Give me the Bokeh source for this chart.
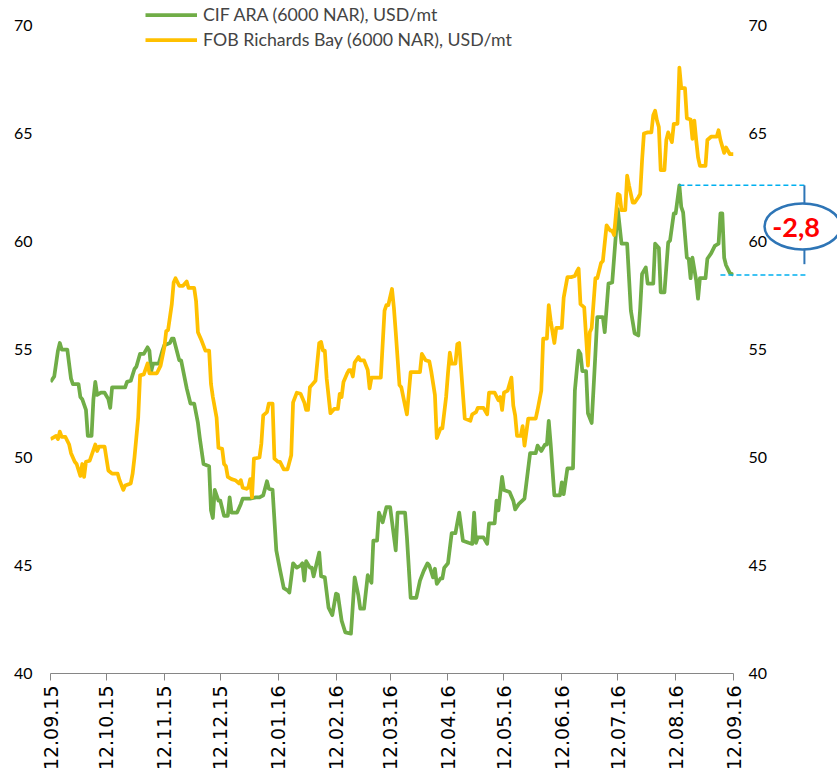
import pandas as pd
from math import pi
from bokeh.plotting import figure
from bokeh.models import (Range1d, LinearAxis, FixedTicker, DatetimeTickFormatter,
                          Legend, LegendItem, ColumnDataSource)
from bokeh.core.properties import value
from bokeh.embed import file_html
from bokeh.resources import INLINE

# ---------------- data ----------------
start_date = "2015-09-12"
tick_dates = ["2015-09-12", "2015-10-12", "2015-11-12", "2015-12-12", "2016-01-12",
              "2016-02-12", "2016-03-12", "2016-04-12", "2016-05-12", "2016-06-12",
              "2016-07-12", "2016-08-12", "2016-09-12"]
y_ticks = [40, 45, 50, 55, 60, 65, 70]

series_names = ["CIF ARA (6000 NAR), USD/mt", "FOB Richards Bay (6000 NAR), USD/mt"]

# days after 12.09.15
cif_days = [0, 2, 4, 5, 6, 9, 11, 12, 15, 16,
            17, 19, 20, 22, 23, 24, 25, 27, 29, 31,
            32, 33, 40, 41, 43, 45, 46, 48, 50, 52,
            53, 54, 55, 58, 60, 61, 64, 65, 66, 69,
            70, 73, 75, 77, 79, 80, 82, 85, 86, 87,
            88, 90, 91, 93, 95, 96, 97, 100, 102, 103,
            107, 110, 112, 114, 116, 117, 119, 121, 123, 125,
            127, 128, 130, 132, 134, 135, 136, 137, 139, 140,
            141, 144, 145, 147, 149, 151, 153, 154, 156, 158,
            161, 163, 165, 166, 168, 170, 172, 173, 175, 176,
            178, 180, 182, 185, 186, 190, 191, 193, 196, 198,
            200, 202, 203, 205, 206, 207, 209, 210, 211, 213,
            215, 217, 219, 221, 224, 226, 227, 228, 229, 232,
            234, 235, 238, 239, 240, 242, 243, 246, 248, 249,
            251, 254, 257, 260, 261, 263, 265, 266, 267, 268,
            270, 273, 274, 275, 277, 280, 281, 283, 284, 285,
            287, 288, 290, 292, 293, 296, 297, 299, 301, 303,
            304, 306, 309, 311, 313, 315, 316, 317, 319, 320,
            323, 324, 326, 327, 329, 331, 332, 334, 335, 337,
            338, 339, 341, 342, 343, 344, 346, 347, 348, 351,
            352, 354, 356, 358, 359, 360, 361, 362, 364, 366]
cif_vals = [53.5, 53.75, 54.95, 55.3, 55.0, 55.0, 53.65, 53.4, 53.4, 52.8,
            52.7, 52.2, 51.0, 51.0, 52.7, 53.5, 52.9, 53.0, 53.0, 52.7,
            52.3, 53.25, 53.25, 53.5, 53.55, 54.1, 54.2, 54.8, 54.8, 55.1,
            54.95, 54.0, 54.35, 54.35, 54.95, 55.2, 55.3, 55.5, 55.5, 54.5,
            54.5, 53.2, 52.5, 52.5, 51.6, 50.9, 49.7, 49.6, 47.55, 47.2,
            48.5, 48.0, 48.0, 47.3, 47.3, 48.15, 47.45, 47.45, 47.85, 48.1,
            48.1, 48.15, 48.15, 48.25, 48.9, 48.55, 48.5, 45.7, 44.8, 43.95,
            43.85, 43.75, 45.1, 44.9, 45.0, 45.1, 44.3, 45.2, 44.9, 44.9,
            44.5, 45.6, 44.5, 44.45, 43.05, 42.7, 43.7, 43.65, 42.45, 41.9,
            41.85, 44.45, 43.6, 43.0, 43.0, 44.55, 44.2, 46.15, 46.15, 47.45,
            47.0, 47.7, 47.7, 45.7, 47.45, 47.45, 46.3, 43.5, 43.5, 44.3,
            44.75, 45.1, 45.0, 44.45, 44.85, 44.15, 44.4, 44.4, 44.9, 45.1,
            46.5, 46.5, 47.45, 46.15, 46.05, 46.0, 47.45, 46.05, 46.3, 46.3,
            46.0, 46.95, 46.95, 48.0, 47.55, 49.1, 48.5, 48.4, 48.0, 47.6,
            47.85, 48.1, 50.2, 50.2, 50.55, 50.3, 50.6, 50.6, 51.7, 50.65,
            48.25, 48.25, 48.85, 48.3, 49.5, 49.5, 53.1, 54.95, 54.8, 54.0,
            54.0, 52.05, 51.6, 54.8, 56.5, 56.5, 55.8, 58.05, 58.1, 60.35,
            61.5, 59.9, 59.9, 56.8, 55.75, 55.65, 56.9, 58.5, 58.8, 58.05,
            58.05, 59.9, 59.7, 57.65, 57.65, 59.95, 60.05, 61.3, 61.3, 62.6,
            61.6, 61.35, 59.25, 59.2, 58.3, 59.25, 58.2, 57.35, 58.3, 58.3,
            59.2, 59.45, 59.8, 59.9, 61.3, 61.3, 59.25, 58.9, 58.55, 58.45]

fob_days = [0, 1, 3, 4, 5, 6, 8, 10, 11, 13,
            14, 16, 17, 18, 19, 21, 24, 25, 26, 29,
            31, 33, 36, 37, 39, 40, 43, 44, 45, 47,
            48, 50, 52, 53, 57, 59, 61, 62, 63, 65,
            66, 67, 69, 71, 73, 74, 77, 78, 79, 81,
            83, 85, 86, 87, 89, 90, 92, 93, 94, 95,
            97, 99, 101, 102, 103, 105, 106, 107, 108, 109,
            112, 113, 114, 116, 117, 119, 120, 122, 123, 125,
            127, 129, 130, 132, 134, 136, 137, 138, 139, 140,
            142, 144, 145, 146, 147, 148, 150, 152, 154, 155,
            156, 157, 159, 160, 161, 162, 163, 165, 166, 168,
            170, 171, 172, 177, 179, 180, 181, 183, 184, 185,
            187, 188, 190, 191, 193, 198, 199, 201, 203, 204,
            206, 207, 209, 210, 212, 213, 214, 215, 217, 218,
            219, 222, 225, 226, 228, 229, 232, 234, 235, 238,
            240, 241, 242, 243, 245, 247, 248, 249, 250, 252,
            253, 254, 256, 260, 261, 263, 264, 266, 267, 268,
            270, 271, 274, 275, 277, 279, 281, 282, 283, 284,
            286, 288, 289, 290, 292, 293, 295, 296, 298, 300,
            301, 302, 304, 305, 306, 308, 309, 310, 312, 313,
            315, 316, 317, 318, 320, 322, 323, 324, 325, 326,
            327, 329, 330, 331, 333, 334, 336, 337, 338, 340,
            341, 343, 344, 345, 346, 347, 348, 351, 352, 354,
            357, 358, 359, 361, 362, 364, 366]
fob_vals = [50.85, 50.9, 51.0, 50.85, 51.2, 50.95, 50.95, 50.6, 50.2, 49.8,
            49.7, 49.15, 49.7, 49.1, 49.8, 49.85, 50.6, 50.3, 50.5, 50.5,
            49.4, 49.25, 49.25, 48.95, 48.5, 48.7, 48.8, 49.25, 50.0, 51.85,
            53.8, 53.85, 54.35, 53.9, 53.9, 54.25, 55.1, 55.85, 55.9, 57.1,
            58.1, 58.3, 57.95, 57.95, 58.15, 57.85, 57.85, 57.25, 55.8, 55.4,
            54.95, 54.95, 53.4, 52.8, 51.85, 50.45, 50.4, 49.7, 49.6, 49.1,
            49.0, 48.95, 48.8, 48.95, 48.6, 48.55, 48.6, 49.0, 48.15, 49.95,
            50.0, 50.65, 51.95, 52.1, 52.5, 52.5, 49.95, 49.8, 49.8, 49.45,
            49.45, 50.1, 52.55, 53.0, 52.95, 52.55, 52.2, 52.2, 53.25, 53.35,
            53.55, 55.3, 55.35, 54.95, 54.95, 53.65, 52.05, 52.25, 52.25, 52.95,
            52.8, 53.5, 53.9, 54.05, 54.05, 53.75, 54.4, 54.65, 54.5, 54.5,
            54.05, 53.2, 53.7, 53.7, 56.8, 57.05, 57.05, 57.8, 56.95, 55.8,
            53.35, 53.25, 52.4, 52.0, 53.95, 53.95, 54.8, 54.5, 54.45, 54.0,
            52.9, 50.9, 51.35, 51.35, 52.8, 53.9, 54.85, 54.35, 54.35, 55.25,
            55.3, 51.8, 51.7, 52.0, 52.1, 52.3, 52.3, 52.0, 53.0, 53.0,
            52.65, 52.8, 52.2, 53.0, 53.1, 53.7, 52.4, 51.95, 51.0, 51.0,
            51.45, 50.55, 51.8, 51.8, 52.2, 53.1, 55.5, 55.5, 57.05, 56.35,
            55.3, 56.0, 56.0, 57.4, 58.35, 58.35, 58.4, 58.6, 58.75, 57.1,
            56.95, 54.25, 55.8, 56.0, 58.3, 58.3, 59.0, 59.1, 60.75, 60.5,
            60.5, 60.3, 62.2, 62.15, 61.45, 61.45, 63.05, 62.6, 61.8, 61.8,
            62.05, 62.2, 63.75, 65.0, 65.05, 65.05, 65.85, 66.05, 65.6, 65.3,
            63.3, 63.3, 64.7, 65.05, 64.6, 65.45, 65.45, 68.05, 67.1, 67.1,
            65.7, 65.65, 64.75, 65.6, 64.7, 63.9, 63.5, 63.5, 64.7, 64.85,
            64.85, 65.15, 64.7, 64.1, 64.35, 64.05, 64.05]

# annotation: recent high vs. latest value of CIF ARA
ann_high = 62.6
ann_last = 58.45
ann_text = "-2,8"

# ---------------- helpers ----------------
t0 = pd.Timestamp(start_date)


def to_ms(days):
    return (t0 + pd.Timedelta(days=days)).value / 1e6


cif_src = ColumnDataSource(dict(x=t0 + pd.to_timedelta(cif_days, unit="D"), y=cif_vals))
fob_src = ColumnDataSource(dict(x=t0 + pd.to_timedelta(fob_days, unit="D"), y=fob_vals))
tick_ms = [pd.Timestamp(d).value / 1e6 for d in tick_dates]

GREEN = "#70AD47"
GOLD = "#FFC000"
DASH_BLUE = "#00B0F0"
RING_BLUE = "#2E75B6"

W, H = 837, 776
LEFT, RIGHT, BOTTOM = 50, 104, 103
frame_h = H - BOTTOM
px_per_unit = 21.6  # vertical scale of the reference (648 px for 30 units)
y_top = y_ticks[0] + frame_h / px_per_unit  # room above 70 for the legend

p = figure(width=W, height=H, x_axis_type="datetime",
           x_range=Range1d(tick_ms[0], tick_ms[-1]), y_range=Range1d(y_ticks[0], y_top),
           output_backend="svg", toolbar_location=None,
           min_border_left=LEFT, min_border_right=RIGHT, min_border_top=0,
           min_border_bottom=BOTTOM)
p.outline_line_color = None
p.xgrid.visible = False
p.ygrid.visible = False

r_cif = p.line("x", "y", source=cif_src, line_color=GREEN, line_width=3.75, line_join="round")
r_fob = p.line("x", "y", source=fob_src, line_color=GOLD, line_width=3.75, line_join="round")

# x axis
xa = p.xaxis[0]
xa.ticker = FixedTicker(ticks=tick_ms)
fmt = "%d.%m.%y"
xa.formatter = DatetimeTickFormatter(milliseconds=fmt, seconds=fmt, minsec=fmt, minutes=fmt,
                                     hourmin=fmt, hours=fmt, days=fmt, months=fmt, years=fmt)
xa.major_label_orientation = pi / 2
xa.axis_line_color = "#868686"
xa.major_tick_line_color = "#868686"
xa.major_tick_out = 7
xa.major_tick_in = 0
xa.minor_tick_line_color = None
xa.minor_tick_out = 0
xa.major_label_text_font = "DejaVu Sans"
xa.major_label_text_font_size = "19px"
xa.major_label_text_color = "#000000"
xa.major_label_standoff = 5

# y axes
ya = p.yaxis[0]
ra = LinearAxis()
p.add_layout(ra, "right")
for ax, standoff in ((ya, 18), (ra, 15)):
    ax.ticker = FixedTicker(ticks=y_ticks)
    ax.axis_line_color = None
    ax.major_tick_line_color = None
    ax.minor_tick_line_color = None
    ax.major_tick_out = 0
    ax.minor_tick_out = 0
    ax.major_label_standoff = standoff
    ax.major_label_text_font = "Lato"
    ax.major_label_text_font_size = "16px"
    ax.major_label_text_color = "#000000"

# legend
legend = Legend(items=[LegendItem(label=series_names[0], renderers=[r_cif]),
                       LegendItem(label=series_names[1], renderers=[r_fob])],
                location=(95, 623), glyph_width=52, glyph_height=21, label_height=21,
                spacing=3, padding=0, margin=0, label_standoff=6,
                label_text_font="Lato", label_text_font_size="17.75px",
                border_line_alpha=0, background_fill_alpha=0)
p.add_layout(legend)

# annotation (overlay level so it may reach past the frame, like the reference)
peak_day = cif_days[cif_vals.index(ann_high)]
p.segment(x0=[to_ms(peak_day), to_ms(cif_days[-6])], y0=[ann_high, ann_last],
          x1=[to_ms(404.5), to_ms(405.5)], y1=[ann_high, ann_last],
          line_color=DASH_BLUE, line_width=1.5, line_dash="5 3", level="overlay")
p.segment(x0=[to_ms(404)], y0=[ann_high], x1=[to_ms(404)], y1=[ann_last + 0.5],
          line_color=RING_BLUE, line_width=2, level="overlay")
p.scatter(x=[to_ms(404)], y=[ann_last + 0.5], marker="inverted_triangle", size=11,
          fill_color=RING_BLUE, line_color=RING_BLUE, level="overlay")
p.ellipse(x=[to_ms(403)], y=[60.7], width=76, height=46, width_units="screen",
          height_units="screen", fill_color="white", line_color=RING_BLUE, line_width=2.5,
          level="overlay")
p.text(x=[to_ms(399.5)], y=[60.65], text=[ann_text], text_align="center", text_baseline="middle",
       text_font=value("Lato"), text_font_style="bold", text_font_size="27px",
       text_color="#FF0000", level="overlay")

open("out.html", "w").write(file_html(p, INLINE))
